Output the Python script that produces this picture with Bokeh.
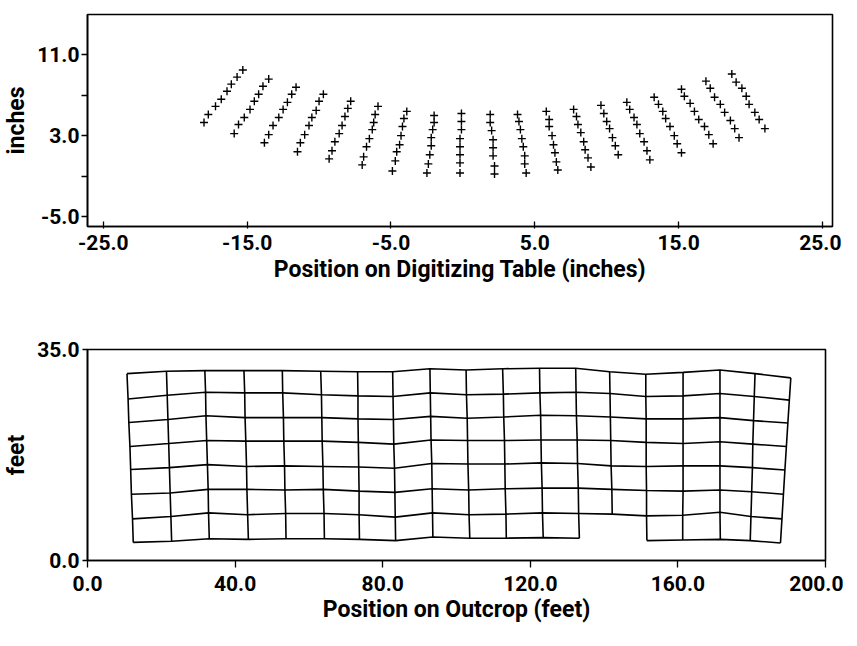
from bokeh.plotting import figure
from bokeh.layouts import column
from bokeh.models import FixedTicker, PrintfTickFormatter
from bokeh.embed import file_html
from bokeh.resources import INLINE

table_x = [
    [-18.0, -17.7, -17.2, -16.8, -16.4, -16.1, -15.7, -15.3],
    [-15.9, -15.6, -15.2, -14.8, -14.5, -14.2, -13.9, -13.5],
    [-13.8, -13.5, -13.2, -12.8, -12.5, -12.2, -11.9, -11.6],
    [-11.5, -11.3, -11.0, -10.7, -10.5, -10.2, -10.0, -9.7],
    [-9.3, -9.1, -8.9, -8.6, -8.4, -8.2, -8.0, -7.8],
    [-7.0, -6.9, -6.7, -6.5, -6.3, -6.2, -6.1, -5.9],
    [-4.9, -4.7, -4.6, -4.4, -4.3, -4.2, -4.1, -3.9],
    [-2.5, -2.4, -2.3, -2.2, -2.2, -2.1, -2.0, -2.0],
    [-0.2, -0.2, -0.2, -0.2, -0.2, -0.1, -0.1, -0.1],
    [2.2, 2.2, 2.1, 2.1, 2.1, 2.0, 1.9, 1.9],
    [4.4, 4.3, 4.3, 4.2, 4.1, 4.0, 3.9, 3.8],
    [6.6, 6.5, 6.4, 6.3, 6.2, 6.0, 6.0, 5.8],
    [8.9, 8.7, 8.5, 8.4, 8.2, 8.0, 7.9, 7.7],
    [10.8, 10.6, 10.4, 10.2, 10.0, 9.8, 9.6],
    [13.0, 12.8, 12.6, 12.3, 12.1, 11.9, 11.6, 11.4],
    [15.2, 14.9, 14.7, 14.4, 14.1, 13.9, 13.6, 13.3],
    [17.4, 17.1, 16.8, 16.4, 16.1, 15.8, 15.4, 15.2],
    [19.2, 18.9, 18.6, 18.2, 17.9, 17.5, 17.2, 16.9],
    [21.0, 20.6, 20.3, 19.9, 19.7, 19.4, 19.0, 18.7],
]
table_y = [
    [4.3, 5.1, 5.9, 6.6, 7.4, 8.1, 8.8, 9.5],
    [3.2, 4.1, 4.8, 5.6, 6.4, 7.1, 7.9, 8.6],
    [2.3, 3.1, 4.0, 4.8, 5.6, 6.3, 7.1, 7.8],
    [1.4, 2.3, 3.1, 4.0, 4.8, 5.5, 6.4, 7.1],
    [0.7, 1.5, 2.4, 3.2, 4.0, 4.9, 5.7, 6.4],
    [0.1, 0.9, 1.9, 2.7, 3.6, 4.3, 5.1, 5.9],
    [-0.5, 0.5, 1.4, 2.1, 3.0, 3.9, 4.7, 5.4],
    [-0.7, 0.2, 1.1, 2.0, 2.8, 3.6, 4.3, 5.0],
    [-0.7, 0.3, 1.1, 1.9, 2.7, 3.6, 4.4, 5.2],
    [-0.8, 0.0, 1.0, 1.8, 2.6, 3.5, 4.3, 5.1],
    [-0.7, 0.2, 1.0, 1.9, 2.7, 3.6, 4.4, 5.1],
    [-0.4, 0.4, 1.3, 2.1, 3.0, 3.9, 4.6, 5.4],
    [-0.1, 0.8, 1.6, 2.4, 3.3, 4.1, 4.9, 5.6],
    [1.1, 2.0, 2.8, 3.7, 4.4, 5.2, 6.0],
    [0.6, 1.5, 2.4, 3.2, 4.1, 4.8, 5.6, 6.3],
    [1.3, 2.2, 3.0, 3.9, 4.7, 5.4, 6.1, 6.8],
    [2.2, 3.1, 3.9, 4.6, 5.4, 6.2, 6.9, 7.6],
    [2.8, 3.7, 4.5, 5.3, 6.1, 6.8, 7.7, 8.4],
    [3.7, 4.6, 5.3, 6.1, 6.9, 7.7, 8.3, 9.1],
]
top_xticks = [-25, -15, -5, 5, 15, 25]
top_yticks = [-5, 3, 11]
top_yminor = [-1, 7]

# ---------------- Bottom panel: rectified mesh (feet), rows bottom -> top, 19 columns
mesh_x = [
    [12.4, 22.8, 33.0, 43.6, 53.8, 64.2, 73.7, 83.5, 93.6, 103.6, 113.5, 123.5, 133.3, None, 151.6, 161.3, 171.5, 179.6, 187.8],
    [12.2, 22.6, 32.8, 43.4, 53.7, 64.1, 73.6, 83.4, 93.5, 103.4, 113.4, 123.3, 133.1, 142.2, 151.5, 161.3, 171.4, 179.8, 188.2],
    [11.9, 22.4, 32.7, 43.2, 53.5, 63.9, 73.6, 83.3, 93.4, 103.3, 113.2, 123.2, 133.0, 142.1, 151.5, 161.4, 171.4, 180.0, 188.6],
    [11.7, 22.2, 32.5, 43.1, 53.4, 63.8, 73.5, 83.2, 93.3, 103.1, 113.1, 123.0, 132.8, 141.9, 151.4, 161.4, 171.4, 180.2, 189.0],
    [11.5, 22.0, 32.3, 42.9, 53.2, 63.6, 73.4, 83.0, 93.1, 103.0, 113.0, 122.9, 132.7, 141.8, 151.4, 161.4, 171.4, 180.3, 189.4],
    [11.2, 21.8, 32.1, 42.7, 53.1, 63.5, 73.3, 82.9, 93.0, 102.9, 112.8, 122.8, 132.5, 141.7, 151.4, 161.4, 171.4, 180.5, 189.8],
    [11.0, 21.6, 32.0, 42.6, 52.9, 63.4, 73.3, 82.8, 92.9, 102.7, 112.7, 122.6, 132.4, 141.6, 151.3, 161.4, 171.4, 180.7, 190.2],
    [10.7, 21.4, 31.8, 42.4, 52.8, 63.2, 73.2, 82.7, 92.8, 102.6, 112.5, 122.5, 132.3, 141.5, 151.3, 161.4, 171.4, 180.9, 190.6],
]
mesh_y = [
    [3.0, 3.2, 3.6, 3.5, 3.6, 3.6, 3.5, 3.3, 3.9, 3.7, 3.7, 3.8, 3.7, None, 3.3, 3.4, 3.5, 3.3, 2.9],
    [6.9, 7.3, 7.9, 7.6, 7.8, 7.8, 7.6, 7.2, 7.9, 7.6, 7.7, 7.9, 7.8, 7.7, 7.4, 7.5, 8.0, 7.3, 6.9],
    [11.0, 11.2, 11.8, 11.8, 11.7, 11.8, 11.5, 11.3, 11.9, 11.7, 11.9, 12.0, 12.0, 11.8, 11.6, 11.5, 11.7, 11.4, 11.0],
    [15.1, 15.4, 15.9, 15.6, 15.7, 15.6, 15.5, 15.3, 16.1, 16.0, 16.0, 16.2, 16.1, 15.7, 15.6, 15.7, 15.7, 15.4, 15.0],
    [18.9, 19.4, 19.9, 19.8, 19.8, 19.8, 19.6, 19.3, 20.0, 19.9, 19.9, 20.0, 20.0, 19.9, 19.6, 19.4, 19.7, 19.3, 18.9],
    [22.9, 23.4, 24.0, 23.7, 23.7, 23.7, 23.5, 23.4, 23.9, 23.6, 23.8, 24.1, 24.0, 23.8, 23.5, 23.5, 23.7, 23.2, 22.8],
    [26.8, 27.4, 27.9, 27.8, 27.8, 27.5, 27.3, 27.2, 27.8, 27.5, 27.6, 27.8, 27.9, 27.7, 27.2, 27.3, 27.7, 27.2, 26.6],
    [31.0, 31.4, 31.5, 31.5, 31.5, 31.4, 31.3, 31.3, 31.8, 31.6, 31.8, 31.9, 31.9, 31.3, 30.9, 31.2, 31.6, 31.0, 30.3],
]
out_xticks = [0, 40, 80, 120, 160, 200]
out_yticks = [0, 35]

FONT = "Roboto"
TICK_SIZE = "21px"
TITLE_SIZE = "23px"


def style(p):
    p.xgrid.visible = False
    p.ygrid.visible = False
    p.outline_line_color = "black"
    p.outline_line_width = 1.6
    p.background_fill_color = "white"
    p.border_fill_color = "white"
    for ax in (p.xaxis[0], p.yaxis[0]):
        ax.axis_line_color = "black"
        ax.axis_line_width = 1.6
        ax.major_tick_line_color = "black"
        ax.major_tick_line_width = 1.3
        ax.minor_tick_line_color = "black"
        ax.minor_tick_line_width = 1.3
        ax.major_label_text_font = FONT
        ax.major_label_text_font_size = TICK_SIZE
        ax.major_label_text_font_style = "bold"
        ax.major_label_text_color = "black"
        ax.axis_label_text_font = FONT
        ax.axis_label_text_font_size = TITLE_SIZE
        ax.axis_label_text_font_style = "bold"
        ax.axis_label_text_color = "black"
        ax.formatter = PrintfTickFormatter(format="%.1f")


# ---------------- Top figure
p1 = figure(frame_width=745, frame_height=212, x_range=(-26.1, 25.7), y_range=(-6.0, 15.0),
            output_backend="svg", toolbar_location=None,
            min_border_left=85, min_border_top=14, min_border_right=9, min_border_bottom=64)
style(p1)
p1.xaxis.ticker = FixedTicker(ticks=top_xticks)
p1.yaxis.ticker = FixedTicker(ticks=top_yticks, minor_ticks=top_yminor)
p1.xaxis.major_tick_in = 5
p1.xaxis.major_tick_out = 2
p1.xaxis.major_label_standoff = 6
p1.yaxis.major_tick_in = 0
p1.yaxis.major_tick_out = 6
p1.yaxis.minor_tick_in = 0
p1.yaxis.minor_tick_out = 6
p1.yaxis.major_label_standoff = 2
p1.xaxis.axis_label = "Position on Digitizing Table (inches)"
p1.yaxis.axis_label = "inches"
p1.xaxis.axis_label_standoff = 3
p1.yaxis.axis_label_standoff = 4

px, py = [], []
for cx, cy in zip(table_x, table_y):
    px.extend(cx)
    py.extend(cy)
p1.scatter(px, py, marker="cross", size=8, line_color="black", line_width=1.4)

# ---------------- Bottom figure
p2 = figure(frame_width=738, frame_height=211, x_range=(0, 200), y_range=(0, 35),
            output_backend="svg", toolbar_location=None,
            min_border_left=83, min_border_top=59, min_border_right=18, min_border_bottom=69)
style(p2)
p2.xaxis.ticker = FixedTicker(ticks=out_xticks)
p2.yaxis.ticker = FixedTicker(ticks=out_yticks)
p2.xaxis.major_tick_in = 0
p2.xaxis.major_tick_out = 7
p2.xaxis.major_label_standoff = 8
p2.yaxis.major_tick_in = 0
p2.yaxis.major_tick_out = 5
p2.yaxis.major_label_standoff = 3
p2.xaxis.axis_label = "Position on Outcrop (feet)"
p2.yaxis.axis_label = "feet"
p2.xaxis.axis_label_standoff = 2
p2.yaxis.axis_label_standoff = 4

xs, ys = [], []
# row lines (split where a node is missing)
for rx, ry in zip(mesh_x, mesh_y):
    segx, segy = [], []
    for a, b in zip(rx, ry):
        if a is None:
            if len(segx) > 1:
                xs.append(segx)
                ys.append(segy)
            segx, segy = [], []
        else:
            segx.append(a)
            segy.append(b)
    if len(segx) > 1:
        xs.append(segx)
        ys.append(segy)
# column lines
ncol = len(mesh_x[0])
for c in range(ncol):
    cx = [mesh_x[r][c] for r in range(len(mesh_x)) if mesh_x[r][c] is not None]
    cy = [mesh_y[r][c] for r in range(len(mesh_y)) if mesh_y[r][c] is not None]
    xs.append(cx)
    ys.append(cy)
p2.multi_line(xs, ys, line_color="black", line_width=1.6)

layout = column(p1, p2, spacing=0)
open("out.html", "w").write(file_html(layout, INLINE))
